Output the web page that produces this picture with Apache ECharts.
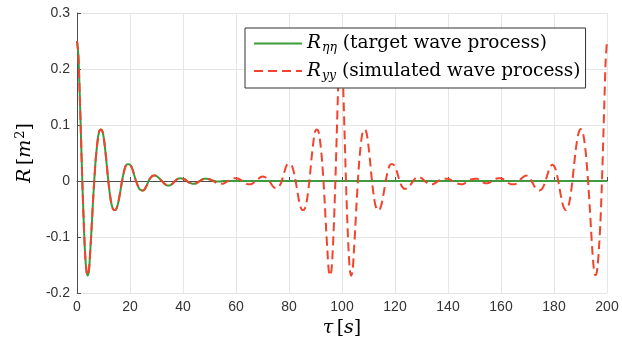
<!DOCTYPE html>
<html><head><meta charset="utf-8">
<script src="https://cdn.jsdelivr.net/npm/echarts@6.0.0/dist/echarts.min.js"></script>
<style>html,body{margin:0;padding:0;background:#fff}#c{width:622px;height:345px}</style>
</head><body><div id="c"></div>
<script>
// Target autocorrelation R_eta_eta (tau in s, R in m^2)
const targetTau = [0,0.5,1,1.5,2,2.5,3,3.5,4,4.5,5,5.5,6,6.5,7,7.5,8,8.5,9,9.5,10,10.5,11,11.5,12,12.5,13,13.5,14,14.5,15,15.5,16,16.5,17,17.5,18,18.5,19,19.5,20,20.5,21,21.5,22,22.5,23,23.5,24,24.5,25,25.5,26,26.5,27,27.5,28,28.5,29,29.5,30,31,32,33,34,35,36,37,38,39,40,41,42,43,44,45,46,47,48,49,50,51,52,53,54,55,200];
const targetR = [0.250,0.226,0.160,0.080,0.000,-0.068,-0.125,-0.158,-0.169,-0.160,-0.125,-0.085,-0.040,0.000,0.035,0.060,0.080,0.090,0.092,0.090,0.080,0.062,0.040,0.015,-0.008,-0.027,-0.041,-0.049,-0.052,-0.052,-0.048,-0.040,-0.028,-0.014,0.000,0.012,0.022,0.028,0.030,0.030,0.029,0.026,0.020,0.012,0.004,-0.003,-0.009,-0.014,-0.016,-0.017,-0.017,-0.015,-0.011,-0.006,0.000,0.004,0.007,0.009,0.010,0.010,0.009,0.005,0.000,-0.005,-0.008,-0.008,-0.005,0.000,0.004,0.005,0.004,0.002,-0.002,-0.004,-0.005,-0.004,-0.001,0.002,0.004,0.004,0.003,0.001,0.000,-0.001,-0.001,0.000,0.000];

// Simulated autocorrelation R_yy
const simTau = [0,0.5,1,1.5,2,2.5,3,3.5,4,4.5,5,5.5,6,6.5,7,7.5,8,8.5,9,9.5,10,10.5,11,11.5,12,12.5,13,13.5,14,14.5,15,15.5,16,16.5,17,17.5,18,18.5,19,19.5,20,20.5,21,21.5,22,22.5,23,23.5,24,24.5,25,25.5,26,26.5,27,27.5,28,28.5,29,29.5,30,
31,32,33,34,35,36,37,38,39,40,41,42,43,44,45,46,47,48,49,50,51,52,53,54,55,56,57,58,59,60,61,62,63,64,65,66,67,68,69,70,71,72,73,74,75,
75.5,76,76.5,77,77.5,78,78.5,79,79.5,80,80.5,81,81.5,82,82.5,83,83.5,84,84.5,85,85.5,86,86.5,87,87.5,88,88.5,89,89.5,90,90.5,91,91.5,92,92.5,93,93.5,94,94.5,95,95.5,96,96.5,97,97.5,98,98.5,99,99.5,100,
100.5,101,101.5,102,102.5,103,103.5,104,104.5,105,105.5,106,106.5,107,107.5,108,108.5,109,109.5,110,110.5,111,111.5,112,112.5,113,113.5,114,114.5,115,115.5,116,116.5,117,117.5,118,118.5,119,119.5,120,120.5,121,121.5,122,122.5,123,123.5,124,124.5,
125,126,127,128,129,130,131,132,133,134,135,136,137,138,139,140,141,142,143,144,145,146,147,148,149,150,151,152,153,154,155,156,157,158,159,160,161,162,163,164,165,166,167,168,169,
169.5,170,170.5,171,171.5,172,172.5,173,173.5,174,174.5,175,175.5,176,176.5,177,177.5,178,178.5,179,179.5,180,180.5,181,181.5,182,182.5,183,183.5,184,184.5,185,185.5,186,186.5,187,187.5,188,188.5,189,189.5,190,190.5,191,191.5,192,192.5,193,193.5,194,194.5,195,195.5,196,196.5,197,197.5,198,198.5,199,199.5,200];
const simR = [0.250,0.226,0.160,0.080,0.000,-0.068,-0.125,-0.158,-0.169,-0.160,-0.125,-0.085,-0.040,0.000,0.035,0.060,0.080,0.090,0.092,0.090,0.080,0.062,0.040,0.015,-0.008,-0.027,-0.041,-0.049,-0.052,-0.052,-0.048,-0.040,-0.028,-0.014,0.000,0.012,0.022,0.028,0.030,0.030,0.029,0.026,0.020,0.012,0.004,-0.003,-0.009,-0.014,-0.016,-0.017,-0.017,-0.015,-0.011,-0.006,0.000,0.004,0.007,0.009,0.010,0.010,0.009,
0.005,0.000,-0.005,-0.008,-0.008,-0.005,0.000,0.004,0.005,0.004,0.002,-0.002,-0.004,-0.005,-0.004,-0.001,0.002,0.004,0.004,0.003,0.001,-0.002,-0.004,-0.005,-0.005,-0.003,0.000,0.003,0.005,0.005,0.004,0.001,-0.002,-0.005,-0.006,-0.005,-0.002,0.002,0.006,0.008,0.007,0.003,-0.003,-0.010,-0.013,
-0.013,-0.011,-0.008,-0.004,0.004,0.012,0.020,0.027,0.030,0.030,0.030,0.028,0.022,0.012,0.000,-0.014,-0.028,-0.040,-0.048,-0.052,-0.052,-0.049,-0.041,-0.027,-0.008,0.015,0.040,0.062,0.080,0.090,0.092,0.090,0.080,0.060,0.035,0.000,-0.040,-0.085,-0.125,-0.160,-0.169,-0.160,-0.125,-0.070,0.000,0.080,0.160,0.228,0.250,0.228,
0.160,0.080,0.000,-0.070,-0.125,-0.160,-0.169,-0.160,-0.125,-0.085,-0.040,0.000,0.035,0.060,0.080,0.090,0.092,0.090,0.080,0.062,0.040,0.015,-0.008,-0.027,-0.041,-0.049,-0.052,-0.052,-0.048,-0.040,-0.028,-0.014,0.000,0.012,0.022,0.028,0.030,0.030,0.029,0.026,0.020,0.012,0.004,-0.003,-0.009,-0.012,-0.014,-0.014,-0.014,
-0.012,-0.006,0.001,0.006,0.007,0.005,0.001,-0.003,-0.006,-0.006,-0.004,-0.001,0.002,0.004,0.004,0.004,0.002,-0.001,-0.004,-0.005,-0.006,-0.005,-0.002,0.001,0.003,0.004,0.004,0.001,-0.002,-0.004,-0.004,-0.002,0.001,0.004,0.005,0.005,0.003,0.000,-0.004,-0.006,-0.006,-0.004,0.001,0.006,0.009,
0.010,0.009,0.007,0.004,0.000,-0.004,-0.009,-0.012,-0.014,-0.016,-0.017,-0.016,-0.014,-0.010,-0.004,0.003,0.011,0.019,0.025,0.028,0.029,0.027,0.022,0.014,0.003,-0.010,-0.024,-0.036,-0.045,-0.050,-0.052,-0.050,-0.044,-0.033,-0.017,0.003,0.025,0.047,0.066,0.080,0.089,0.093,0.091,0.084,0.070,0.050,0.022,-0.010,-0.048,-0.088,-0.127,-0.155,-0.168,-0.166,-0.150,-0.118,-0.075,-0.015,0.060,0.140,0.215,0.250];

const seriesNames = ['target', 'simulated'];
const legendTexts = {
  target: '{i|R}{sub|ηη}{n| (target wave process)}',
  simulated: '{i|R}{sub|yy}{n| (simulated wave process)}'
};

const serif = 'DejaVu Serif';
const richMath = {
  i: {fontFamily: serif, fontStyle: 'italic', fontSize: 19, color: '#000'},
  n: {fontFamily: serif, fontSize: 19, color: '#000'},
  sub: {fontFamily: serif, fontStyle: 'italic', fontSize: 13, color: '#000', padding: [9, 0, 0, 1]},
  sup: {fontFamily: serif, fontSize: 13, color: '#000', padding: [0, 0, 9, 1]}
};
const richLegend = {
  i: {fontFamily: serif, fontStyle: 'italic', fontSize: 18.5, color: '#000'},
  n: {fontFamily: serif, fontSize: 18.5, color: '#000'},
  sub: {fontFamily: serif, fontStyle: 'italic', fontSize: 12.5, color: '#000', padding: [9, 0, 0, 1]}
};

const chart = echarts.init(document.getElementById('c'));
chart.setOption({
  animation: false,
  backgroundColor: '#fff',
  grid: {left: 77, right: 15, top: 13, bottom: 52},
  legend: {
    orient: 'vertical', left: 245, top: 28,
    itemWidth: 48, itemHeight: 12, itemGap: 7,
    padding: [6, 5, 6, 8],
    borderColor: '#333', borderWidth: 1, backgroundColor: '#fff',
    data: seriesNames,
    itemStyle: {opacity: 0},
    formatter: n => legendTexts[n],
    textStyle: {rich: richLegend}
  },
  xAxis: {
    type: 'value', min: 0, max: 200, interval: 20,
    axisLine: {show: true, lineStyle: {color: '#4d4d4d', width: 1}},
    axisTick: {show: true, inside: true, length: 4, lineStyle: {color: '#4d4d4d'}},
    axisLabel: {color: '#333', fontFamily: 'Liberation Sans', fontSize: 14, margin: 7},
    splitLine: {show: true, lineStyle: {color: '#e6e6e6', width: 1}},
    name: '{i|τ} {n|[}{i|s}{n|]}', nameLocation: 'middle', nameGap: 18,
    nameTextStyle: {rich: richMath}
  },
  yAxis: {
    type: 'value', min: -0.2, max: 0.3, interval: 0.1,
    axisLine: {show: true, lineStyle: {color: '#4d4d4d', width: 1}},
    axisTick: {show: true, inside: true, length: 4, lineStyle: {color: '#4d4d4d'}},
    axisLabel: {color: '#333', fontFamily: 'Liberation Sans', fontSize: 14, margin: 7,
      formatter: v => String(Math.round(v * 10) / 10)},
    splitLine: {show: true, lineStyle: {color: '#e6e6e6', width: 1}},
    name: '{i|R} {n|[}{i|m}{sup|2}{n|]}', nameLocation: 'middle', nameGap: 37, nameRotate: 90,
    nameTextStyle: {rich: richMath}
  },
  series: [
    {name: 'target', type: 'line', symbol: 'none', smooth: 0.3,
     data: targetTau.map((t, k) => [t, targetR[k]]),
     lineStyle: {color: '#3d9a3d', width: 2}, itemStyle: {color: '#3d9a3d'}},
    {name: 'simulated', type: 'line', symbol: 'none', smooth: 0.3,
     data: simTau.map((t, k) => [t, simR[k]]),
     lineStyle: {color: '#f2442c', width: 2, type: [9, 5]}, itemStyle: {color: '#f2442c'}}
  ]
});
</script></body></html>
